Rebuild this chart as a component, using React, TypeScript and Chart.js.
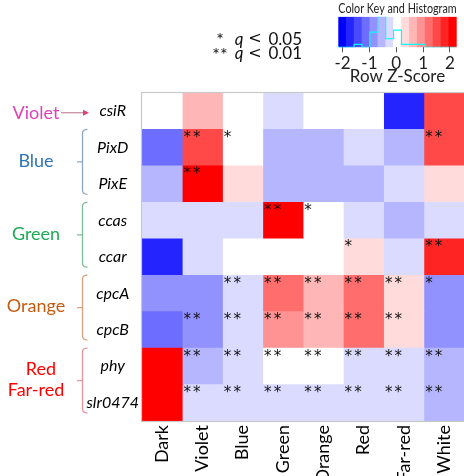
import React, { useEffect, useRef } from 'react';
import { Chart, registerables } from 'chart.js';

Chart.register(...registerables);
Chart.defaults.font.family = 'Lato';

// ---------- data ----------
const conditions = ['Dark', 'Violet', 'Blue', 'Green', 'Orange', 'Red', 'Far-red', 'White'];
const genes = ['csiR', 'PixD', 'PixE', 'ccas', 'ccar', 'cpcA', 'cpcB', 'phy', 'slr0474'];

// row z-scores (Dark, Violet, Blue, Green, Orange, Red, Far-red, White)
const zCsiR = [0.0, 0.65, 0.0, -0.25, 0.0, 0.0, -1.75, 1.5];
const zPixD = [-1.1, 1.5, 0.05, -0.55, -0.55, -0.25, -0.55, 1.45];
const zPixE = [-0.55, 2.2, 0.3, -0.55, -0.55, -0.55, -0.25, 0.3];
const zCcas = [-0.25, -0.25, -0.25, 2.25, 0.0, -0.25, -0.55, -0.25];
const zCcar = [-1.75, -0.25, 0.0, 0.0, 0.0, 0.3, -0.25, 1.8];
const zCpcA = [-0.85, -0.85, -0.25, 1.2, 0.65, 1.2, 0.3, -0.85];
const zCpcB = [-1.1, -0.85, -0.25, 0.9, 0.65, 1.2, 0.3, -0.85];
const zPhy = [2.3, -0.55, -0.25, 0.0, 0.0, -0.25, -0.25, -0.55];
const zSlr0474 = [2.4, -0.25, -0.25, -0.25, -0.25, -0.25, -0.25, -0.55];
const zScores = [zCsiR, zPixD, zPixE, zCcas, zCcar, zCpcA, zCpcB, zPhy, zSlr0474];

// significance marks
const sCsiR = ['', '', '', '', '', '', '', ''];
const sPixD = ['', '**', '*', '', '', '', '', '**'];
const sPixE = ['', '**', '', '', '', '', '', ''];
const sCcas = ['', '', '', '**', '*', '', '', ''];
const sCcar = ['', '', '', '', '', '*', '', '**'];
const sCpcA = ['', '', '**', '**', '**', '**', '**', '*'];
const sCpcB = ['', '**', '**', '**', '**', '**', '**', ''];
const sPhy = ['', '**', '**', '**', '**', '**', '**', '**'];
const sSlr0474 = ['', '**', '**', '**', '**', '**', '**', '**'];
const sigMarks = [sCsiR, sPixD, sPixE, sCcas, sCcar, sCpcA, sCpcB, sPhy, sSlr0474];

// gene groups (left annotations)
const groupLabels = [['Violet'], ['Blue'], ['Green'], ['Orange'], ['Red', 'Far-red']];
const groupFirstRow = [0, 1, 3, 5, 7];
const groupLastRow = [0, 2, 4, 6, 8];

// significance legend
const legendStars = ['*', '**'];
const legendThresholds = ['0.05', '0.01'];

// colour key
const keyMin = -2.16;
const keyMax = 2.25;
const keyBinCount = 15;
const keyTicks = [-2, -1, 0, 1, 2];
const histCounts = [1, 0, 0, 3, 0, 16, 33, 9, 18, 3, 3, 3, 0, 0, 0];
const histMax = 32;

// ---------- styles ----------
const groupColors = ['#E23FB8', '#2E75B6', '#1FAA55', '#C55A11', '#FF0000'];
const bracketColors = ['#C98FA6', '#8DA8C6', '#7DBE98', '#D9A27E', '#E9959B'];

const binW = (keyMax - keyMin) / keyBinCount;
function paletteColor(k: number): string {
  if (k < 7) {
    const v = Math.round((k * 255) / 7);
    return `rgb(${v},${v},255)`;
  }
  if (k === 7) return 'rgb(255,255,255)';
  const v = Math.round(((14 - k) * 255) / 7);
  return `rgb(255,${v},${v})`;
}
function zToColor(z: number): string {
  const k = Math.max(0, Math.min(keyBinCount - 1, Math.floor((z - keyMin) / binW)));
  return paletteColor(k);
}

const mainPlugin = {
  id: 'heatExtras',
  afterDatasetsDraw(chart: any) {
    const ctx = chart.ctx;
    const ca = chart.chartArea;
    // significance stars
    ctx.save();
    ctx.fillStyle = '#111';
    ctx.font = '15px "DejaVu Sans"';
    ctx.textAlign = 'center';
    ctx.textBaseline = 'alphabetic';
    const m = ctx.measureText('*');
    const mid = (m.actualBoundingBoxAscent - m.actualBoundingBoxDescent) / 2;
    conditions.forEach((_, c) => {
      const meta = chart.getDatasetMeta(c);
      genes.forEach((__, r) => {
        const el: any = meta.data[r];
        const n = sigMarks[r][c].length;
        if (!n) return;
        const left = Math.min(el.base, el.x);
        const top = el.y - el.height / 2;
        for (let i = 0; i < n; i++) {
          ctx.fillText('*', left + 5 + i * 9.6, top + 4.5 + mid);
        }
      });
    });
    // frame
    ctx.strokeStyle = '#C8C8C8';
    ctx.lineWidth = 1.2;
    ctx.strokeRect(ca.left - 0.5, ca.top - 0.5, ca.right - ca.left + 1, ca.bottom - ca.top + 1);
    ctx.restore();
  },
  afterDraw(chart: any) {
    const ctx = chart.ctx;
    const y = chart.scales.y;
    ctx.save();
    // groups
    groupLabels.forEach((lines, g) => {
      const first = groupFirstRow[g];
      const last = groupLastRow[g];
      const half = (y.getPixelForValue(1) - y.getPixelForValue(0)) / 2;
      const top = y.getPixelForValue(first) - half;
      const bottom = y.getPixelForValue(last) + half;
      ctx.strokeStyle = bracketColors[g];
      ctx.lineWidth = 1.3;
      let cy: number;
      if (first === last) {
        cy = y.getPixelForValue(first) + 1.5;
        ctx.beginPath();
        ctx.moveTo(61, cy);
        ctx.lineTo(84, cy);
        ctx.stroke();
        ctx.fillStyle = '#E0407A';
        ctx.beginPath();
        ctx.moveTo(89, cy);
        ctx.lineTo(83, cy - 3);
        ctx.lineTo(83, cy + 3);
        ctx.closePath();
        ctx.fill();
      } else {
        const bt = top;
        const bb = bottom - 8;
        cy = (bt + bb) / 2;
        ctx.beginPath();
        ctx.moveTo(87.5, bt);
        ctx.quadraticCurveTo(82.5, bt, 82.5, bt + 4);
        ctx.lineTo(82.5, bb - 4);
        ctx.quadraticCurveTo(82.5, bb, 87.5, bb);
        ctx.moveTo(82.5, cy);
        ctx.lineTo(77, cy);
        ctx.stroke();
        cy -= 1;
      }
      ctx.fillStyle = groupColors[g];
      ctx.font = '18px Lato';
      ctx.textAlign = 'center';
      ctx.textBaseline = 'middle';
      const lh = 21.5;
      lines.forEach((t, i) => {
        const ly = cy - ((lines.length - 1) * lh) / 2 + i * lh;
        const lx = lines.length > 1 && i === 0 ? 41 : 36;
        ctx.fillText(t, lx, ly);
      });
    });
    // significance legend
    ctx.fillStyle = '#111';
    ctx.textBaseline = 'middle';
    legendStars.forEach((stars, i) => {
      const ly = 39.5 + i * 14.5;
      ctx.textAlign = 'center';
      ctx.font = '18px Lato';
      ctx.fillText(stars, 220, ly + 1);
      ctx.font = 'italic 17px Lato';
      ctx.fillText('q', 239, ly);
      ctx.font = '16px "DejaVu Sans"';
      ctx.fillText('<', 255, ly - 0.5);
      ctx.textAlign = 'right';
      ctx.font = '17px Lato';
      ctx.fillText(legendThresholds[i], 302, ly);
    });
    ctx.restore();
  },
};

function mainConfig(): any {
  const datasets = conditions.map((cond, c) => ({
    label: cond,
    data: genes.map(() => 1),
    backgroundColor: genes.map((_, r) => zToColor(zScores[r][c])),
    borderWidth: 0,
    barPercentage: 1,
    categoryPercentage: 1,
    xAxisID: 'x',
    yAxisID: 'y',
  }));
  return {
    type: 'bar',
    data: { labels: genes, datasets },
    options: {
      indexAxis: 'y',
      responsive: false,
      animation: false,
      events: [],
      layout: { padding: { top: 93, right: 2.6, left: 0, bottom: 0 } },
      plugins: { legend: { display: false }, tooltip: { enabled: false }, title: { display: false } },
      scales: {
        x: { type: 'linear', stacked: true, min: 0, max: conditions.length, display: false },
        xc: {
          type: 'category',
          labels: conditions,
          position: 'bottom',
          offset: true,
          grid: { display: false, drawTicks: false },
          border: { display: false },
          ticks: {
            autoSkip: false,
            minRotation: 90,
            maxRotation: 90,
            padding: 4,
            color: '#000',
            font: { family: 'Lato', size: 18 },
          },
          afterFit: (s: any) => { s.height = 55; },
        },
        y: {
          type: 'category',
          stacked: true,
          offset: true,
          grid: { display: false, drawTicks: false },
          border: { display: false },
          ticks: {
            crossAlign: 'center',
            padding: 3,
            color: '#000',
            font: { family: 'Lato', size: 16, style: 'italic' },
          },
          afterFit: (s: any) => { s.width = 142; },
        },
      },
    },
    plugins: [mainPlugin],
  };
}

function keyConfig(): any {
  const centers = Array.from({ length: keyBinCount }, (_, k) => keyMin + (k + 0.5) * binW);
  const colors = centers.map((_, k) => paletteColor(k));
  const histPoints = histCounts.map((cnt, k) => ({ x: keyMin + k * binW, y: cnt }));
  histPoints.push({ x: keyMax, y: histCounts[keyBinCount - 1] });
  return {
    type: 'bar',
    data: {
      datasets: [
        {
          type: 'line',
          data: histPoints,
          borderColor: '#00FFFF',
          borderWidth: 1.2,
          pointRadius: 0,
          stepped: 'after',
          order: 0,
        },
        {
          type: 'bar',
          data: centers.map((x) => ({ x, y: histMax })),
          backgroundColor: colors,
          borderWidth: 0,
          barPercentage: 1,
          categoryPercentage: 1,
          order: 1,
        },
      ],
    },
    options: {
      responsive: false,
      animation: false,
      events: [],
      layout: { padding: { left: 18.3, right: 7.3, top: 0, bottom: 1 } },
      plugins: {
        legend: { display: false },
        tooltip: { enabled: false },
        title: {
          display: true,
          text: 'Color Key and Histogram',
          color: '#222',
          font: { family: 'Lato', size: 13.5, weight: 'normal', lineHeight: 1.1 },
          padding: { top: 1, bottom: 1 },
        },
      },
      scales: {
        x: {
          type: 'linear',
          min: keyMin,
          max: keyMax,
          offset: false,
          afterBuildTicks: (s: any) => { s.ticks = keyTicks.map((v) => ({ value: v })); },
          grid: { display: true, offset: false, drawOnChartArea: false, drawTicks: true, tickLength: 5, color: '#555' },
          border: { display: false },
          ticks: {
            padding: 3,
            color: '#222',
            font: { family: 'Lato', size: 17, lineHeight: 1 },
            callback: (v: any) => String(v),
          },
          title: {
            display: true,
            text: 'Row Z-Score',
            color: '#222',
            font: { family: 'Lato', size: 17, lineHeight: 1 },
            padding: { top: 0, bottom: 0 },
          },
          afterFit: (s: any) => { s.height = 37.7; },
        },
        y: { display: false, min: 0, max: histMax },
      },
    },
  };
}

export default function App() {
  const mainRef = useRef<HTMLCanvasElement>(null);
  const keyRef = useRef<HTMLCanvasElement>(null);
  useEffect(() => {
    const main = new Chart(mainRef.current as HTMLCanvasElement, mainConfig());
    const key = new Chart(keyRef.current as HTMLCanvasElement, keyConfig());
    return () => {
      main.destroy();
      key.destroy();
    };
  }, []);
  return (
    <div style={{ position: 'fixed', left: 0, top: 0, width: 464, height: 476, overflow: 'hidden', background: '#fff' }}>
      <canvas ref={mainRef} width={470} height={476} style={{ position: 'absolute', left: 0, top: 0, width: 470, height: 476 }} />
      <canvas ref={keyRef} width={144} height={86} style={{ position: 'absolute', left: 320, top: 0, width: 144, height: 86 }} />
    </div>
  );
}
